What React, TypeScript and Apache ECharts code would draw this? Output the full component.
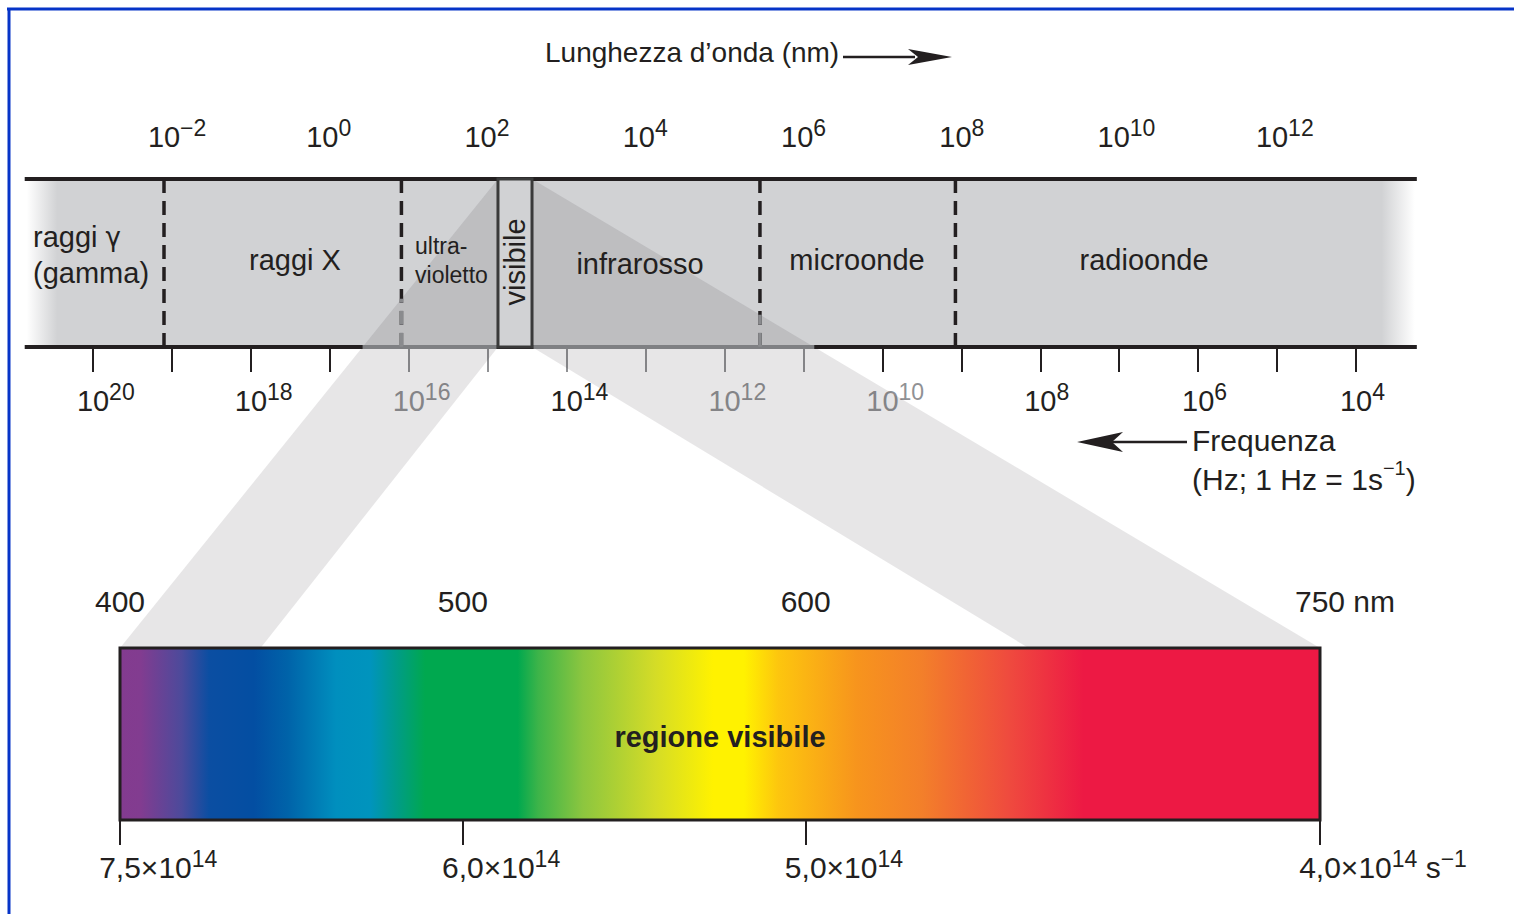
import React, { useEffect, useRef } from 'react';
import * as echarts from 'echarts';

// ---------------- data ----------------
const wavelengthExpRange = [-2, 12]; // log10(nm) on the top scale
const wavelengthLabelExps = [-2, 0, 2, 4, 6, 8, 10, 12];
const frequencyExpRange = [4, 20]; // log10(Hz) on the lower scale (reversed)
const frequencyTickExpsDark = [4, 5, 6, 7, 8, 9, 10, 17, 18, 19, 20];
const frequencyTickExpsShaded = [11, 12, 13, 14, 15, 16];
const frequencyLabelExpsDark = [20, 18, 14, 8, 6, 4];
const frequencyLabelExpsShaded = [16, 12, 10];

const bandExtentExp = [-3.76, 13.83];
const regionDividerExps = [-2, 1, 5.53, 8];
const visibleBoxExps = [2.22, 2.65];
const regionNames = ['raggi {g|γ}\n(gamma)', 'raggi X', 'ultra-\nvioletto', 'visibile', 'infrarosso', 'microonde', 'radioonde'];
const regionAnchorExps = [-3.655, -0.345, 1.172, 2.435, 4.015, 6.757, 10.383];
const regionAnchorLevels = [0.546, 0.518, 0.512, 0.506, 0.494, 0.518, 0.518];

const visibleRangeNm = [400, 750];
const visibleTickNm = [400, 500, 600, 750];
const visibleTickLabels = ['400', '500', '600', '750'];
const visibleFreqMantissa = ['7,5', '6,0', '5,0', '4,0'];
const visibleFreqExp = ['14', '14', '14', '14'];
const projectionInnerNm = [441, 665];
const spectrumStopNm = [400, 406, 418, 426, 439, 449, 463, 473, 480, 489, 516, 522, 535, 556, 573, 582, 592, 615, 634, 659, 681, 750];
const spectrumStopColors = ['#833b8f', '#823c90', '#4c4a9b', '#0b4ea2', '#034ea2', '#0063a9', '#008fbe', '#0094bd', '#009b8c', '#00a84f', '#00a84f', '#3db449', '#8cc63f', '#d4dc27', '#fff200', '#fff200', '#fdc60e', '#f7941d', '#f37f2a', '#ef4b3e', '#ed1944', '#ed1944'];

// ---------------- styles ----------------
const FONT = '"Liberation Sans", Arial, Helvetica, sans-serif';
const INK = '#231f20';
const SHADE_INK = '#909194';
const BAND = '#d1d2d4';
const BASE = 29;
const SUP = 23;
const SUP_DROP = 3;

let measureCtx: CanvasRenderingContext2D | null = null;
function tw(text: string, size: number): number {
  if (!measureCtx) measureCtx = document.createElement('canvas').getContext('2d');
  if (!measureCtx) return text.length * size * 0.55;
  measureCtx.font = `${size}px "Liberation Sans"`;
  return measureCtx.measureText(text).width;
}
const supStr = (e: number) => (e < 0 ? '\u2212' + Math.abs(e) : String(e));

function powerRich(color: string, exps: number[]) {
  const rich: any = {
    b: { fontSize: BASE, lineHeight: 38, fontFamily: FONT, color, verticalAlign: 'bottom' },
    s: { fontSize: SUP, fontFamily: FONT, color, verticalAlign: 'top', padding: [SUP_DROP, 0, 0, 0] },
  };
  exps.forEach((e) => {
    rich['p' + (e + 10)] = { width: tw(supStr(e), SUP), lineHeight: 38, fontSize: 10 };
  });
  return rich;
}
const powerFormatter = (v: number) => {
  const e = Math.round(v);
  return `{p${e + 10}| }{b|10}{s|${supStr(e)}}`;
};

function freqAxis(ticks: number[], labels: number[], color: string) {
  return {
    gridIndex: 1, type: 'value', min: frequencyExpRange[0], max: frequencyExpRange[1], interval: 1,
    inverse: true, position: 'bottom',
    axisLine: { show: false }, splitLine: { show: false },
    axisTick: { show: true, length: 25, customValues: ticks, lineStyle: { color, width: 2 } },
    axisLabel: { show: true, customValues: labels, margin: 30, formatter: powerFormatter, rich: powerRich(color, labels) },
  };
}

function buildOption(): any {
  const topSpecRich: any = { b: { fontSize: 30, lineHeight: 34, fontFamily: FONT, color: INK } };
  visibleTickLabels.forEach((t, i) => {
    if (i === visibleTickLabels.length - 1) topSpecRich['r' + i] = { width: tw(' nm', 30), fontSize: 10 };
  });
  const botSpecRich: any = {
    b: { fontSize: 30, lineHeight: 38, fontFamily: FONT, color: INK, verticalAlign: 'bottom' },
    s: { fontSize: SUP, fontFamily: FONT, color: INK, verticalAlign: 'top', padding: [SUP_DROP, 0, 0, 0] },
  };
  visibleFreqMantissa.forEach((m, i) => {
    let w = tw('\u00d710', 30) + tw(visibleFreqExp[i], SUP);
    if (i === visibleFreqMantissa.length - 1) w += tw(' s', 30) + tw('\u22121', SUP);
    botSpecRich['q' + i] = { width: w, lineHeight: 38, fontSize: 10 };
  });

  return {
    animation: false,
    backgroundColor: '#ffffff',
    grid: [
      { left: 164, top: 179, width: 1108, height: 168 },
      { left: 93, top: 179, width: 1263, height: 168 },
      { left: 120, top: 648, width: 1200, height: 172 },
    ],
    xAxis: [
      {
        gridIndex: 0, type: 'value', min: wavelengthExpRange[0], max: wavelengthExpRange[1], interval: 1, position: 'top',
        axisLine: { show: false }, splitLine: { show: false },
        axisTick: { show: true, length: 25, lineStyle: { color: INK, width: 2 } },
        axisLabel: { show: true, customValues: wavelengthLabelExps, margin: 28, formatter: powerFormatter, rich: powerRich(INK, wavelengthLabelExps) },
      },
      freqAxis(frequencyTickExpsDark, frequencyLabelExpsDark, INK),
      {
        gridIndex: 2, type: 'value', min: visibleRangeNm[0], max: visibleRangeNm[1], position: 'top',
        axisLine: { show: false }, splitLine: { show: false },
        axisTick: { show: true, length: 25, customValues: visibleTickNm, lineStyle: { color: INK, width: 2 } },
        axisLabel: {
          show: true, customValues: visibleTickNm, margin: 30, rich: topSpecRich,
          formatter: (v: number) => {
            const i = visibleTickNm.indexOf(Math.round(v));
            if (i < 0) return '';
            return i === visibleTickNm.length - 1 ? `{r${i}| }{b|${visibleTickLabels[i]} nm}` : `{b|${visibleTickLabels[i]}}`;
          },
        },
      },
      {
        gridIndex: 2, type: 'value', min: visibleRangeNm[0], max: visibleRangeNm[1], position: 'bottom',
        axisLine: { show: false }, splitLine: { show: false },
        axisTick: { show: true, length: 25, customValues: visibleTickNm, lineStyle: { color: INK, width: 2 } },
        axisLabel: {
          show: true, customValues: visibleTickNm, margin: 24, rich: botSpecRich,
          formatter: (v: number) => {
            const i = visibleTickNm.indexOf(Math.round(v));
            if (i < 0) return '';
            let s = `{q${i}| }{b|${visibleFreqMantissa[i]}\u00d710}{s|${visibleFreqExp[i]}}`;
            if (i === visibleTickNm.length - 1) s += `{b| s}{s|\u22121}`;
            return s;
          },
        },
      },
      freqAxis(frequencyTickExpsShaded, frequencyLabelExpsShaded, SHADE_INK),
    ],
    yAxis: [0, 1, 2].map((g) => ({ gridIndex: g, type: 'value', min: 0, max: 1, show: false })),
    series: [
      {
        type: 'custom', name: 'band', xAxisIndex: 0, yAxisIndex: 0, z: 1, clip: false, silent: true,
        data: [[0, 0]],
        renderItem: (_p: any, api: any) => {
          const a = api.coord([bandExtentExp[0], 1]);
          const b = api.coord([bandExtentExp[1], 0]);
          const w = b[0] - a[0];
          return {
            type: 'rect',
            shape: { x: a[0] + 2, y: a[1], width: w - 4, height: b[1] - a[1] },
            style: {
              fill: new echarts.graphic.LinearGradient(0, 0, 1, 0, [
                { offset: 0, color: '#ffffff' }, { offset: 0.022, color: BAND },
                { offset: 0.976, color: BAND }, { offset: 1, color: '#ffffff' },
              ]),
            },
          };
        },
      },
      {
        type: 'custom', name: 'regions', xAxisIndex: 0, yAxisIndex: 0, z: 3, clip: false, silent: true,
        data: [[0, 0]],
        renderItem: (_p: any, api: any) => {
          const a = api.coord([bandExtentExp[0], 1]);
          const b = api.coord([bandExtentExp[1], 0]);
          const top = a[1], bot = b[1];
          const children: any[] = [];
          children.push({ type: 'line', shape: { x1: a[0], y1: top, x2: b[0], y2: top }, style: { stroke: INK, lineWidth: 4 } });
          children.push({ type: 'line', shape: { x1: a[0], y1: bot, x2: b[0], y2: bot }, style: { stroke: INK, lineWidth: 4 } });
          regionDividerExps.forEach((e) => {
            const x = api.coord([e, 0])[0];
            children.push({ type: 'line', shape: { x1: x, y1: top, x2: x, y2: bot }, style: { stroke: INK, lineWidth: 3.5, lineDash: [14, 8] } });
          });
          const xl = api.coord([visibleBoxExps[0], 0])[0];
          const xr = api.coord([visibleBoxExps[1], 0])[0];
          children.push({ type: 'rect', shape: { x: xl, y: top, width: xr - xl, height: bot - top }, style: { fill: BAND, stroke: '#3a3a3a', lineWidth: 3 } });
          regionNames.forEach((name, i) => {
            const p = api.coord([regionAnchorExps[i], regionAnchorLevels[i]]);
            const multi = name.indexOf('\n') >= 0;
            const small = i === 2;
            children.push({
              type: 'text', x: p[0], y: p[1], rotation: i === 3 ? Math.PI / 2 : 0,
              style: {
                text: name, fill: INK, fontFamily: FONT, fontSize: small ? 23 : BASE,
                lineHeight: small ? 29 : 36,
                align: multi ? 'left' : 'center', verticalAlign: 'middle',
                rich: { g: { fontFamily: '"DejaVu Sans", sans-serif', fontSize: 26, fill: INK, lineHeight: 36 } },
              },
            });
          });
          return { type: 'group', children };
        },
      },
      {
        type: 'custom', name: 'spectrum', xAxisIndex: 2, yAxisIndex: 2, z: 3, clip: false, silent: true,
        data: [[0, 0]],
        renderItem: (_p: any, api: any) => {
          const p0 = api.coord([visibleRangeNm[0], 1]);
          const p1 = api.coord([visibleRangeNm[1], 0]);
          const w = p1[0] - p0[0];
          const stops = spectrumStopNm.map((nm, i) => ({
            offset: Math.min(1, Math.max(0, (api.coord([nm, 0])[0] - p0[0]) / w)),
            color: spectrumStopColors[i],
          }));
          return {
            type: 'group',
            children: [
              {
                type: 'rect', shape: { x: p0[0], y: p0[1], width: w, height: p1[1] - p0[1] },
                style: { fill: new echarts.graphic.LinearGradient(0, 0, 1, 0, stops), stroke: INK, lineWidth: 3 },
              },
              {
                type: 'text', x: (p0[0] + p1[0]) / 2, y: (p0[1] + p1[1]) / 2 + 3,
                style: { text: 'regione visibile', fill: INK, fontFamily: FONT, fontSize: 29, fontWeight: 'bold', align: 'center', verticalAlign: 'middle' },
              },
            ],
          };
        },
      },
    ],
  };
}

function buildGraphics(chart: any): any[] {
  const px = (axis: number, v: number) => chart.convertToPixel({ xAxisIndex: axis }, v) as number;
  const py = (axis: number, v: number) => chart.convertToPixel({ yAxisIndex: axis }, v) as number;
  const xL = px(0, visibleBoxExps[0]);
  const xR = px(0, visibleBoxExps[1]);
  const yTop = py(0, 1);
  const yBot = py(0, 0);
  const xS0 = px(2, visibleRangeNm[0]);
  const xS1 = px(2, visibleRangeNm[1]);
  const xI0 = px(2, projectionInnerNm[0]);
  const xI1 = px(2, projectionInnerNm[1]);
  const yS = py(2, 1);

  const shade = 'rgba(35,31,32,0.11)';
  const els: any[] = [];
  // frame
  els.push({ type: 'line', z: 10, shape: { x1: 7, y1: 9, x2: 1514, y2: 9 }, style: { stroke: '#0634c8', lineWidth: 3 } });
  els.push({ type: 'line', z: 10, shape: { x1: 9, y1: 8, x2: 9, y2: 914 }, style: { stroke: '#0634c8', lineWidth: 3 } });

  // projection of the visible band
  els.push({ type: 'polygon', z: 2, silent: true, shape: { points: [[xL, yTop], [xL, yBot], [xI0, yS], [xS0, yS]] }, style: { fill: shade } });
  els.push({ type: 'polygon', z: 2, silent: true, shape: { points: [[xR, yTop], [xS1, yS], [xI1, yS], [xR, yBot]] }, style: { fill: shade } });

  // lines under the projection look lighter
  const f = (yBot - yTop) / (yS - yTop);
  const xLc = xL + (xS0 - xL) * f;
  const xRc = xR + (xS1 - xR) * f;
  els.push({ type: 'line', z: 4, shape: { x1: xLc, y1: yBot, x2: xL - 1.5, y2: yBot }, style: { stroke: '#7f8083', lineWidth: 4 } });
  els.push({ type: 'line', z: 4, shape: { x1: xR + 1.5, y1: yBot, x2: xRc, y2: yBot }, style: { stroke: '#7f8083', lineWidth: 4 } });
  regionDividerExps.forEach((e) => {
    const x = px(0, e);
    let y = Infinity;
    if (x < xL && x > xS0) y = yTop + ((x - xL) / (xS0 - xL)) * (yS - yTop);
    if (x > xR && x < xS1) y = yTop + ((x - xR) / (xS1 - xR)) * (yS - yTop);
    if (y < yBot) {
      els.push({ type: 'line', z: 4, shape: { x1: x, y1: y, x2: x, y2: yBot }, style: { stroke: '#8a8b8e', lineWidth: 3.6, lineDash: [14, 8], lineDashOffset: y - yTop } });
    }
  });

  // wavelength title
  els.push({ type: 'text', z: 10, x: 545, y: 52, style: { text: 'Lunghezza d\u2019onda (nm)', fill: INK, fontFamily: FONT, fontSize: 28, align: 'left', verticalAlign: 'middle' } });
  els.push({ type: 'line', z: 10, shape: { x1: 843, y1: 57, x2: 915, y2: 57 }, style: { stroke: INK, lineWidth: 2.5 } });
  els.push({ type: 'polygon', z: 10, shape: { points: [[952, 57], [908, 49], [918, 57], [908, 65]] }, style: { fill: INK } });

  // frequency title
  els.push({ type: 'line', z: 10, shape: { x1: 1110, y1: 442, x2: 1187, y2: 442 }, style: { stroke: INK, lineWidth: 2.5 } });
  els.push({ type: 'polygon', z: 10, shape: { points: [[1077, 442], [1123, 432], [1112, 442], [1123, 452]] }, style: { fill: INK } });
  els.push({ type: 'text', z: 10, x: 1192, y: 440, style: { text: 'Frequenza', fill: INK, fontFamily: FONT, fontSize: 30, align: 'left', verticalAlign: 'middle' } });
  els.push({
    type: 'text', z: 10, x: 1192, y: 476,
    style: {
      text: '{n|(Hz; 1 Hz = 1s}{s|\u22121}{n|)}', fill: INK, align: 'left', verticalAlign: 'middle',
      rich: {
        n: { fontSize: 30, lineHeight: 36, fontFamily: FONT, fill: INK, verticalAlign: 'bottom' },
        s: { fontSize: 20, lineHeight: 20, fontFamily: FONT, fill: INK, verticalAlign: 'top' },
      },
    },
  });
  return els;
}

export default function App() {
  const ref = useRef<HTMLDivElement>(null);
  useEffect(() => {
    if (!ref.current) return;
    const chart = echarts.init(ref.current, null, { renderer: 'svg' });
    chart.setOption(buildOption());
    chart.setOption({ graphic: { elements: buildGraphics(chart) } });
    return () => chart.dispose();
  }, []);
  return <div ref={ref} style={{ position: 'fixed', left: 0, top: 0, width: 1514, height: 914, background: '#ffffff' }} />;
}
